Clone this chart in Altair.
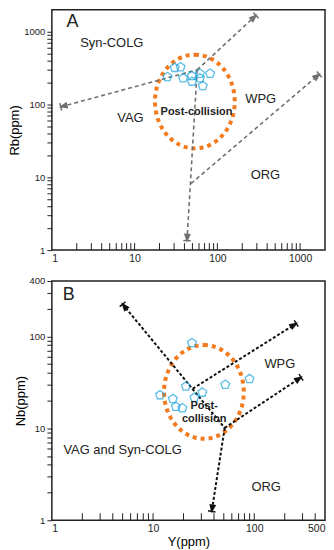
import altair as alt
import pandas as pd

# ---------------- data ----------------
# Panel A : Rb vs (Y+Nb)
a_pts_x = [24.9, 30.5, 36.0, 38.6, 49.0, 49.4, 61.6, 61.6, 81.7, 66.7]
a_pts_y = [240, 320, 327, 230, 247, 207, 266, 230, 266, 180]

a_seg = [1, 1, 2, 2, 3, 3, 4, 4]
a_line_x = [1.28, 57, 57, 293, 57, 43, 48, 1703]
a_line_y = [93, 300, 300, 1675, 300, 1.35, 8.2, 260]

a_arrow_x = [1.28, 293, 43, 1703]
a_arrow_y = [93, 1675, 1.35, 260]
a_arrow_angle = [255, 48, 183, 50]

a_lab_text = ["Syn-COLG", "VAG", "WPG", "ORG"]
a_lab_x = [5.3, 8.9, 334, 381]
a_lab_y = [710, 66, 120, 10.8]

# Panel B : Nb vs Y
b_pts_x = [24.2, 11.7, 15.7, 16.8, 19.5, 21.1, 25.6, 30.7, 51.7, 89.7]
b_pts_y = [85, 23, 20.9, 17.2, 16.6, 28.6, 21.5, 24.5, 29.8, 34.4]

b_seg = [1, 1, 2, 2, 3, 3, 4, 4]
b_line_x = [5.0, 51, 51, 38, 51, 290, 24.7, 260]
b_line_y = [224, 10.1, 10.1, 1.25, 10.1, 35.8, 27, 138]

b_arrow_x = [5.0, 38, 290, 260]
b_arrow_y = [224, 1.25, 35.8, 138]
b_arrow_angle = [320, 189, 57, 58]

b_lab_text = ["WPG", "VAG and Syn-COLG", "ORG"]
b_lab_x = [179, 5.0, 131]
b_lab_y = [49.5, 5.8, 2.3]

# ticks
a_x_ticks = [2, 3, 4, 5, 6, 7, 8, 9, 10, 20, 30, 40, 50, 60, 70, 80, 90, 100,
             200, 300, 400, 500, 600, 700, 800, 900, 1000]
a_y_ticks = [1, 2, 3, 4, 5, 6, 7, 8, 9, 10, 20, 30, 40, 50, 60, 70, 80, 90, 100,
             200, 300, 400, 500, 600, 700, 800, 900, 1000]
b_x_ticks = [2, 3, 4, 5, 6, 7, 8, 9, 10, 20, 30, 40, 50, 60, 70, 80, 90, 100,
             200, 300, 400]
b_y_ticks = [1, 2, 3, 4, 5, 6, 7, 8, 9, 10, 20, 30, 40, 50, 60, 70, 80, 90, 100,
             200, 300, 400]

W = 274
HA = 241
HB = 240

PENT = "M0,-1 L0.951,-0.309 L0.588,0.809 L-0.588,0.809 L-0.951,-0.309 Z"
ARROW = "M-0.8,0 L0.8,0 M0,0 L0.5,1.3 L-0.5,1.3 Z"


def ellipse_path(a):
    k = 0.5523
    return (f"M0,-1 C{k*a:.3f},-1 {a:.3f},-{k:.3f} {a:.3f},0 "
            f"C{a:.3f},{k:.3f} {k*a:.3f},1 0,1 "
            f"C-{k*a:.3f},1 -{a:.3f},{k:.3f} -{a:.3f},0 "
            f"C-{a:.3f},-{k:.3f} -{k*a:.3f},-1 0,-1 Z")


def panel(H, xdom, ydom, pts_x, pts_y, seg, lx, ly, arx, ary, aran,
          lab_t, lab_x, lab_y, xticks, yticks, xlabels, ylabels, ytitle,
          xtitle, line_color, dash, lw, ell_c, letter, letter_xy, post_xy, post_text):
    xs = alt.Scale(type="log", domain=xdom, nice=False)
    ys = alt.Scale(type="log", domain=ydom, nice=False)
    yexpr = "indexof(" + str(ylabels) + ", datum.value) >= 0 ? format(datum.value, 'd') : ''"
    yaxis = alt.Axis(values=yticks, labelExpr=yexpr, title=ytitle, tickSize=5,
                     tickColor="#222", domain=False, grid=False, labelFontSize=9.5,
                     labelColor="#222", titleFontSize=13, titleFontWeight="normal",
                     titlePadding=2, labelPadding=2, labelOverlap=False)
    if xtitle:
        xaxis = alt.Axis(values=xlabels, format="d", ticks=False, domain=False, grid=False,
                         labelFontSize=10.5, labelColor="#222", labelPadding=3,
                         labelFlush=True, labelOverlap=False,
                         title=xtitle, titleFontSize=13,
                         titleFontWeight="normal", titlePadding=2)
    else:
        xaxis = alt.Axis(values=xlabels, format="d", ticks=False, domain=False, grid=False,
                         labelFontSize=10.5, labelColor="#222", labelPadding=3,
                         labelFlush=True, labelOverlap=False, title=None)

    pts = pd.DataFrame({"x": pts_x, "y": pts_y})
    base = alt.Chart(pts).mark_point(shape=PENT, size=85, filled=False,
                                     color="#1aa3dc", strokeWidth=1.3).encode(
        x=alt.X("x:Q", scale=xs, axis=xaxis),
        y=alt.Y("y:Q", scale=ys, axis=yaxis),
    )

    lines = alt.Chart(pd.DataFrame({"seg": seg, "x": lx, "y": ly, "o": list(range(len(seg)))})).mark_line(
        color=line_color, strokeDash=dash, strokeWidth=lw).encode(
        x=alt.X("x:Q", scale=xs), y=alt.Y("y:Q", scale=ys), detail="seg:N", order="o:Q")

    arrows = []
    for ax_, ay_, an_ in zip(arx, ary, aran):
        arrows.append(alt.Chart(pd.DataFrame({"x": [ax_], "y": [ay_]})).mark_point(
            shape=ARROW, size=90, angle=an_, filled=True, fill=line_color,
            stroke=line_color, strokeWidth=1.5, opacity=1).encode(
            x=alt.X("x:Q", scale=xs), y=alt.Y("y:Q", scale=ys)))

    ell = alt.Chart(pd.DataFrame({"x": [ell_c[0]], "y": [ell_c[1]]})).mark_point(
        shape=ellipse_path(0.851), size=8836, filled=False, color="#f27b1f",
        strokeWidth=4, strokeDash=[4, 4], opacity=1).encode(
        x=alt.X("x:Q", scale=xs), y=alt.Y("y:Q", scale=ys))

    labs = alt.Chart(pd.DataFrame({"t": lab_t, "x": lab_x, "y": lab_y})).mark_text(
        fontSize=13, color="#222").encode(
        x=alt.X("x:Q", scale=xs), y=alt.Y("y:Q", scale=ys), text="t:N")

    post = alt.Chart(pd.DataFrame({"t": [post_text], "x": [post_xy[0]], "y": [post_xy[1]]})).mark_text(
        fontSize=11, fontWeight="bold", color="#222", lineBreak="\n", lineHeight=13).encode(
        x=alt.X("x:Q", scale=xs), y=alt.Y("y:Q", scale=ys), text="t:N")

    let = alt.Chart(pd.DataFrame({"t": [letter], "x": [letter_xy[0]], "y": [letter_xy[1]]})).mark_text(
        fontSize=18, color="#222").encode(
        x=alt.X("x:Q", scale=xs), y=alt.Y("y:Q", scale=ys), text="t:N")

    ticks = alt.Chart(pd.DataFrame({"x": xticks})).mark_rule(color="#222", strokeWidth=1).encode(
        x=alt.X("x:Q", scale=xs), y=alt.value(H), y2=alt.value(H - 7))

    return alt.layer(ell, lines, *arrows, base, labs, post, let, ticks).properties(
        width=W, height=H)


chart_a = panel(HA, [1, 2000], [1, 2000], a_pts_x, a_pts_y, a_seg, a_line_x, a_line_y,
                a_arrow_x, a_arrow_y, a_arrow_angle, a_lab_text, a_lab_x, a_lab_y,
                a_x_ticks, a_y_ticks, [1, 10, 100, 1000], [1, 10, 100, 1000], "Rb(ppm)",
                None, "#707070", [4, 3], 1.6, (53.5, 110), "A", (1.77, 1362), (56, 78),
                "Post-collision")

chart_b = panel(HB, [1, 500], [1, 400], b_pts_x, b_pts_y, b_seg, b_line_x, b_line_y,
                b_arrow_x, b_arrow_y, b_arrow_angle, b_lab_text, b_lab_x, b_lab_y,
                b_x_ticks, b_y_ticks, [1, 10, 100, 500], [1, 10, 100, 400], "Nb(ppm)",
                "Y(ppm)", "#111111", [3, 2], 2, (31.8, 24.9), "B", (1.47, 281), (32, 17.5),
                "Post-\ncollision")

chart = alt.vconcat(chart_a, chart_b, spacing=10).properties(
    padding={"left": 0, "top": 0, "right": 0, "bottom": 0}
).configure(font="Liberation Sans").configure_view(
    stroke="#222", strokeWidth=1.5
)

chart.save("out.html", embed_options={"renderer": "svg", "actions": False})
